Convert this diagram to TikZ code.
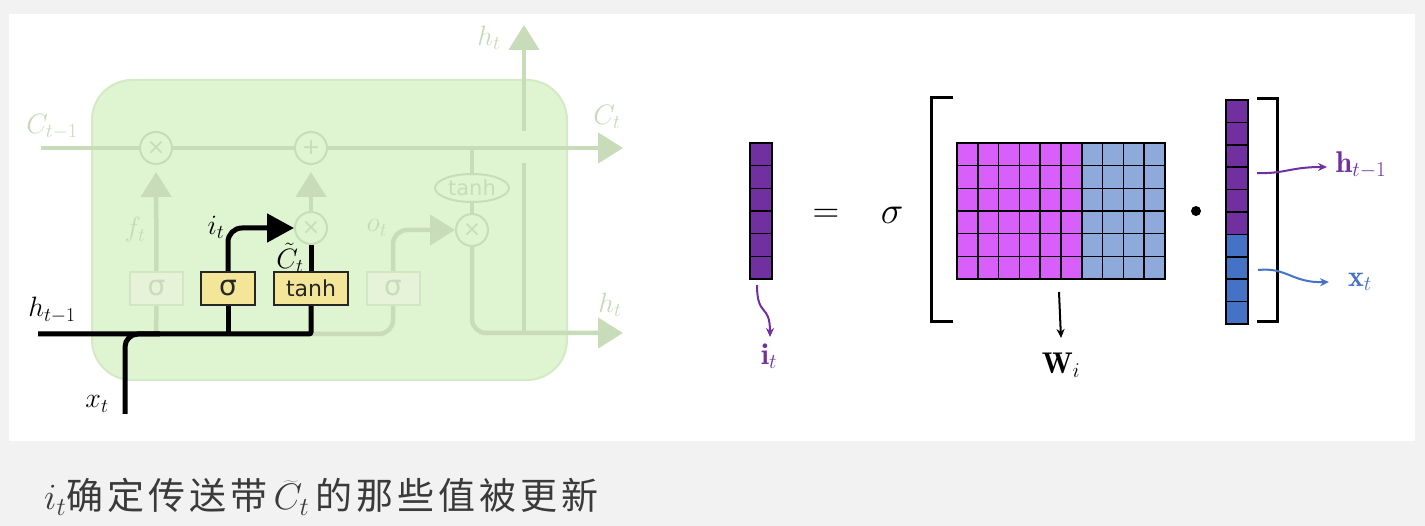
\RequirePackage{fix-cm}
\documentclass[tikz,border=0pt]{standalone}
\usepackage{fontspec}
\newfontfamily\dejavu{DejaVu Sans}
\newfontfamily\cjk[LetterSpace=11]{Noto Sans CJK SC}
\usetikzlibrary{arrows.meta,shapes.geometric}
\definecolor{bggray}{HTML}{F2F2F2}
\definecolor{cellfill}{HTML}{DFF4D1}
\definecolor{celldraw}{HTML}{D3EAC4}
\definecolor{fadec}{HTML}{C9DCB9}
\definecolor{fadetext}{HTML}{C6DAB6}
\definecolor{fboxfill}{HTML}{E6F3D9}
\definecolor{fboxdraw}{HTML}{D3E6C3}
\definecolor{ybox}{HTML}{F4E699}
\definecolor{ipurple}{HTML}{7030A0}
\definecolor{magen}{HTML}{D95FFB}
\definecolor{lblue}{HTML}{8EAADB}
\definecolor{dblue}{HTML}{4472C4}
\definecolor{captext}{HTML}{3A3A3A}
\begin{document}
\begin{tikzpicture}[x=1pt,y=-1pt,
  cellbox/.style={rectangle, rounded corners=40pt, fill=cellfill, draw=celldraw, line width=2pt, minimum width=475pt, minimum height=300pt, inner sep=0pt},
  fcirc/.style={circle, draw=fadec, fill=cellfill, line width=2pt, minimum size=32pt, inner sep=0pt, text=fadec, font=\dejavu\fontsize{22}{22}\selectfont},
  fell/.style={ellipse, draw=fadec, fill=cellfill, line width=2pt, minimum width=74pt, minimum height=28pt, inner sep=0pt, text=fadec, font=\dejavu\fontsize{21}{21}\selectfont},
  fbox/.style={rectangle, draw=fboxdraw, fill=fboxfill, line width=2pt, minimum width=53pt, minimum height=33pt, inner sep=0pt, text=fadec, font=\dejavu\fontsize{28}{28}\selectfont},
  yb/.style={rectangle, draw=black!85, fill=ybox, line width=2pt, minimum width=54pt, minimum height=33pt, inner sep=0pt, text=black!85, font=\dejavu\fontsize{22}{22}\selectfont},
  fline/.style={draw=fadec, line width=4.5pt},
  farrow/.style={-{Triangle[length=25pt,width=30pt]}},
  bline/.style={draw=black, line width=5pt},
  barrow/.style={-{Triangle[length=27pt,width=28pt]}},
  flab/.style={text=fadetext, inner sep=0pt, font=\fontsize{28}{28}\selectfont},
  blab/.style={text=black, inner sep=0pt, font=\fontsize{28}{28}\selectfont},
  mcell/.style={draw=black, line width=1.5pt},
  brk/.style={draw=black, line width=3pt},
  thinarr/.style={line width=2pt, -{Stealth[length=9pt,width=8pt]}},
  rlab/.style={inner sep=0pt, font=\fontsize{30}{30}\selectfont}
]
\fill[bggray] (0,0) rectangle (1425,526);
\useasboundingbox (0,0) rectangle (1425,526);
\fill[white] (9,14) rectangle (1415,441);

% ---------- LSTM cell ----------
\node[cellbox] (cell) at (329.5,230) {};

\node[fcirc] (fx) at (156,148) {×};
\node[fcirc] (pl) at (311,148) {+};
\node[fcirc] (ix) at (311,228) {×};
\node[fcirc] (ox) at (472,230) {×};
\node[fell] (te) at (472,188) {tanh};
\node[fbox] (fs) at (156.5,288.5) {σ};
\node[fbox] (fo) at (393,288.5) {σ};

\coordinate (c0) at (41,148);
\coordinate (c1) at (623,148);
\coordinate (tj) at (472,148);
\coordinate (hout) at (623,333);
\coordinate (hup) at (524,25);
\coordinate (hb) at (524,333);
\coordinate (hg1) at (524,163);
\coordinate (hg2) at (524,131);
\coordinate (hin) at (38,334);
\coordinate (xin) at (125,414);
\coordinate (xc) at (160,334);
\coordinate (fj) at (156,334);

% faded connectors
\draw[fline] (c0) -- (fx);
\draw[fline] (fx) -- (pl);
\draw[fline, farrow] (pl) -- (c1);
\draw[fline] (tj) -- (te);
\draw[fline] (te) -- (ox);
\draw[fline, farrow, shorten >=7pt] (fs) -- (fx);
\draw[fline] (fs.south) -- (fj);
\draw[fline, farrow, shorten >=7pt] (ix) -- (pl);
\draw[fline, rounded corners=14pt] (fo.south) |- (hin);
\draw[fline, farrow, rounded corners=14pt] (fo.north) |- (ox);
\draw[fline, farrow, rounded corners=14pt] (ox) |- (hout);
\draw[fline] (hb) -- (hg1);
\draw[fline, farrow] (hg2) -- (hup);

% highlighted parts
\node[yb, font=\dejavu\fontsize{28}{28}\selectfont] (sb) at (228,288.5) {σ};
\node[yb, minimum width=74pt] (tb) at (311,288.5) {tanh};
\draw[bline, rounded corners=2pt] (hin) -| (tb.south);
\draw[bline] (sb.south) -- (sb.south |- hin);
\draw[bline, rounded corners=13pt] (xin) |- (xc);
\draw[bline, barrow, rounded corners=14pt] (sb.north) |- (ix);
\draw[bline] (tb.north) -- (ix);

% labels
\node[flab] (lc0) at (52,127) {$C_{t-1}$};
\node[flab] (lht) at (489,38) {$h_t$};
\node[flab] (lct) at (607,117) {$C_t$};
\node[flab] (lhr) at (610,305) {$h_t$};
\node[flab] (lft) at (135,230) {$f_t$};
\node[flab] (lot) at (377,228) {$o_t$};
\node[blab] (lit) at (216,227) {$i_t$};
\node[blab] (lct2) at (290,258) {$\tilde{C}_t$};
\node[blab] (lhin) at (52,310) {$h_{t-1}$};
\node[blab] (lxt) at (97,404) {$x_t$};

% ---------- right equation ----------
\foreach \r in {0,...,5}
  \draw[mcell, fill=ipurple] (750,143+\r*22.667) rectangle ++(22,22.667);
\foreach \c in {0,...,5}
  \foreach \r in {0,...,5}
    \draw[mcell, fill=magen] (957+\c*20.8,143+\r*22.667) rectangle ++(20.8,22.667);
\foreach \c in {6,...,9}
  \foreach \r in {0,...,5}
    \draw[mcell, fill=lblue] (957+\c*20.8,143+\r*22.667) rectangle ++(20.8,22.667);
\foreach \r in {0,...,5}
  \draw[mcell, fill=ipurple] (1226,100+\r*22.4) rectangle ++(22,22.4);
\foreach \r in {6,...,9}
  \draw[mcell, fill=dblue] (1226,100+\r*22.4) rectangle ++(22,22.4);

\draw[brk] (953,98) -- (931,98) -- (931,322) -- (953,322);
\draw[brk] (1257,99) -- (1277,99) -- (1277,322) -- (1257,322);

\node[font=\fontsize{37}{37}\selectfont] (eq) at (826,216) {$=$};
\node[font=\fontsize{38}{38}\selectfont] (sg) at (892,215) {$\sigma$};
\node[circle, fill=black, minimum size=10pt, inner sep=0pt] (dotop) at (1196,211) {};

\node[rlab, text=ipurple] (itl) at (769,356) {$\mathbf{i}_t$};
\node[rlab, text=black] (wl) at (1061,365) {$\mathbf{W}_i$};
\node[rlab, text=ipurple] (hl) at (1361,165) {$\mathbf{h}_{t-1}$};
\node[rlab, text=dblue] (xl) at (1360,282) {$\mathbf{x}_t$};

\coordinate (ia) at (757,285);
\coordinate (ib) at (770,337);
\coordinate (wa) at (1059,292);
\coordinate (wb) at (1061,338);
\coordinate (ha) at (1257,173);
\coordinate (hbb) at (1327,167);
\coordinate (xa) at (1258,270);
\coordinate (xb) at (1329,282);
\draw[thinarr, ipurple] (ia) .. controls (757,318) and (770,303) .. (ib);
\draw[thinarr, black] (wa) -- (wb);
\draw[thinarr, ipurple] (ha) .. controls (1285,174) and (1290,167) .. (hbb);
\draw[thinarr, dblue] (xa) .. controls (1287,267) and (1292,283) .. (xb);

% ---------- caption ----------
\node[anchor=west, text=captext, inner sep=0pt] (cap) at (44,497)
  {\fontsize{37}{40}\selectfont $i_t$\cjk 确定传送带\,$\widetilde{C}_t$\,的那些值被更新};
\end{tikzpicture}
\end{document}
